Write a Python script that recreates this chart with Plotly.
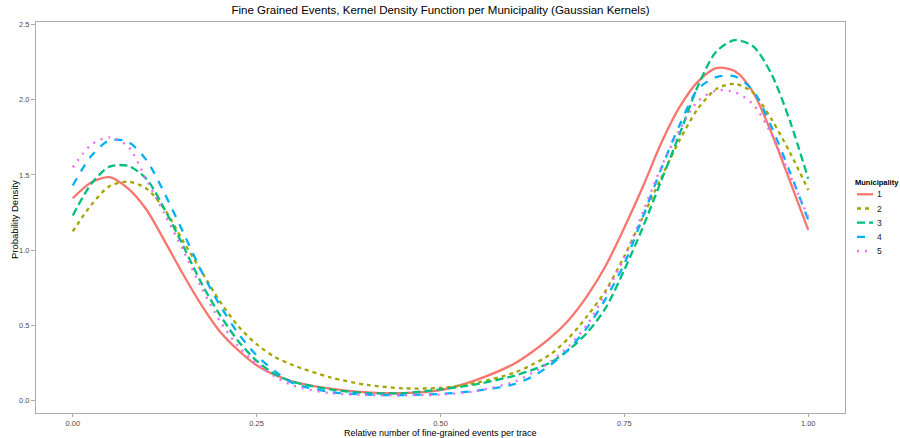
import plotly.graph_objects as go

# Evaluation grid (relative number of fine-grained events per trace)
x_grid = [0.0, 0.025, 0.05, 0.075, 0.1, 0.125, 0.15, 0.175, 0.2, 0.225, 0.25, 0.275,
          0.3, 0.35, 0.4, 0.45, 0.5, 0.55, 0.6, 0.625, 0.65, 0.675, 0.7, 0.725, 0.75,
          0.775, 0.8, 0.825, 0.85, 0.875, 0.9, 0.925, 0.95, 0.975, 1.0]

# Kernel density estimates per municipality
density_1 = [1.345, 1.45, 1.485, 1.41, 1.27, 1.06, 0.84, 0.635, 0.46, 0.335, 0.235, 0.17,
             0.125, 0.08, 0.055, 0.05, 0.07, 0.14, 0.245, 0.325, 0.42, 0.54, 0.70, 0.90, 1.15,
             1.42, 1.71, 1.95, 2.12, 2.21, 2.19, 2.05, 1.78, 1.46, 1.135]
density_2 = [1.125, 1.30, 1.425, 1.455, 1.41, 1.27, 1.06, 0.86, 0.66, 0.495, 0.375, 0.29,
             0.235, 0.155, 0.105, 0.082, 0.085, 0.12, 0.185, 0.24, 0.31, 0.42, 0.565, 0.735, 0.96,
             1.22, 1.48, 1.73, 1.94, 2.07, 2.105, 2.045, 1.87, 1.65, 1.40]
density_3 = [1.23, 1.44, 1.555, 1.56, 1.475, 1.27, 1.03, 0.78, 0.57, 0.395, 0.265, 0.175,
             0.125, 0.075, 0.05, 0.05, 0.075, 0.11, 0.165, 0.205, 0.255, 0.34, 0.455, 0.62, 0.87,
             1.15, 1.46, 1.77, 2.09, 2.32, 2.395, 2.355, 2.17, 1.86, 1.475]
density_4 = [1.43, 1.625, 1.73, 1.72, 1.60, 1.375, 1.12, 0.86, 0.635, 0.447, 0.30, 0.195,
             0.115, 0.058, 0.04, 0.037, 0.045, 0.066, 0.11, 0.16, 0.24, 0.345, 0.49, 0.68, 0.91,
             1.22, 1.54, 1.83, 2.07, 2.15, 2.155, 2.06, 1.82, 1.52, 1.20]
density_5 = [1.55, 1.70, 1.75, 1.69, 1.47, 1.24, 1.0, 0.75, 0.53, 0.36, 0.245, 0.16,
             0.10, 0.05, 0.038, 0.036, 0.04, 0.065, 0.125, 0.185, 0.26, 0.365, 0.51, 0.72, 0.95,
             1.25, 1.55, 1.80, 1.99, 2.06, 2.05, 1.97, 1.77, 1.50, 1.22]

municipalities = ["1", "2", "3", "4", "5"]
series = [density_1, density_2, density_3, density_4, density_5]
colors = ["#F8766D", "#A3A500", "#00BF7D", "#00B0F6", "#E76BF3"]
dashes = ["solid", "4px,4px", "8px,4px", "8px,8px", "2px,6px"]

x_tick_vals = [0.0, 0.25, 0.5, 0.75, 1.0]
x_tick_text = ["0.00", "0.25", "0.50", "0.75", "1.00"]
y_tick_vals = [0.0, 0.5, 1.0, 1.5, 2.0, 2.5]
y_tick_text = ["0.0", "0.5", "1.0", "1.5", "2.0", "2.5"]

FONT = "Liberation Sans, Arial, sans-serif"
AXIS_GREY = "#ababab"

W, H = 900, 438
panel_left, panel_right, panel_top, panel_bottom = 36, 845, 22, 413
panel_w = panel_right - panel_left
panel_h = panel_bottom - panel_top


def px_x(p):
    return (p - panel_left) / panel_w


def px_y(p):
    return (panel_bottom - p) / panel_h


fig = go.Figure()
for name, ys, col, dash in zip(municipalities, series, colors, dashes):
    fig.add_trace(go.Scatter(
        x=x_grid, y=ys, mode="lines", name=name,
        line=dict(color=col, width=2.3, dash=dash, shape="spline", smoothing=0.8),
        showlegend=False,
    ))

# Legend beside the panel: title, key lines and labels
fig.add_annotation(x=px_x(853), y=px_y(182.7), xref="paper", yref="paper",
                   text="<b>Municipality</b>", showarrow=False, xanchor="left",
                   yanchor="middle", font=dict(family=FONT, size=7.5, color="#000000"))
for i, (name, col, dash) in enumerate(zip(municipalities, colors, dashes)):
    yy = px_y(194.3 + 14.2 * i)
    fig.add_shape(type="line", xref="paper", yref="paper",
                  x0=px_x(857), x1=px_x(873), y0=yy, y1=yy,
                  line=dict(color=col, width=2.3, dash=dash))
    fig.add_annotation(x=px_x(875), y=yy, xref="paper", yref="paper", text=name,
                       showarrow=False, xanchor="left", yanchor="middle",
                       font=dict(family=FONT, size=8.5, color="#1a1a1a"))

# Axis titles
fig.add_annotation(x=0.5, y=px_y(433), xref="paper", yref="paper",
                   text="Relative number of fine-grained events per trace",
                   showarrow=False, xanchor="center", yanchor="middle",
                   font=dict(family=FONT, size=9, color="#000000"))
fig.add_annotation(x=px_x(14), y=px_y(220), xref="paper", yref="paper",
                   text="Probability Density", textangle=-90,
                   showarrow=False, xanchor="center", yanchor="middle",
                   font=dict(family=FONT, size=9.5, color="#000000"))

fig.update_layout(
    width=W, height=H,
    margin=dict(l=panel_left, r=W - panel_right, t=panel_top, b=H - panel_bottom),
    paper_bgcolor="white", plot_bgcolor="white",
    font=dict(family=FONT, color="#000000"),
    title=dict(text="Fine Grained Events, Kernel Density Function per Municipality (Gaussian Kernels)",
               x=(panel_left + panel_w / 2) / W, xanchor="center", y=1 - 10 / H, yanchor="middle",
               font=dict(family=FONT, size=11.5, color="#000000")),
    showlegend=False,
)
fig.update_xaxes(
    range=[-0.05, 1.05], tickvals=x_tick_vals, ticktext=x_tick_text,
    showgrid=False, zeroline=False, showline=True, mirror=True, automargin=False,
    linecolor=AXIS_GREY, linewidth=1, ticks="outside", ticklen=3, tickcolor=AXIS_GREY,
    tickfont=dict(family=FONT, size=7.5, color="#4d4d4d"),
)
fig.update_yaxes(
    range=[-0.082, 2.516], tickvals=y_tick_vals, ticktext=y_tick_text,
    showgrid=False, zeroline=False, showline=True, mirror=True, automargin=False,
    linecolor=AXIS_GREY, linewidth=1, ticks="outside", ticklen=4, tickcolor=AXIS_GREY,
    tickfont=dict(family=FONT, size=7.5, color="#4d4d4d"),
)

fig.write_html("out.html")
